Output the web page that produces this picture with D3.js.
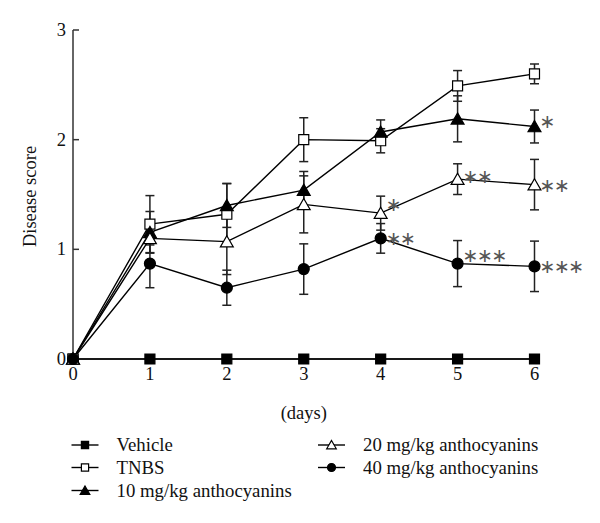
<!DOCTYPE html>
<html>
<head>
<meta charset="utf-8">
<script src="https://cdn.jsdelivr.net/npm/d3@7"></script>
<style>
  body { margin: 0; background: #fff; }
  svg { display: block; }
  text { font-family: "Liberation Serif", "Times New Roman", serif; fill: #111; }
  .star { font-family: "DejaVu Sans", sans-serif; fill: #555; }
</style>
</head>
<body>
<svg id="chart" width="600" height="523"></svg>
<script>
// days on the x axis
var days = [0, 1, 2, 3, 4, 5, 6];
var yTicks = [0, 1, 2, 3];

// mean disease score per group
var vehicle = [0, 0, 0, 0, 0, 0, 0];
var tnbs = [0, 1.23, 1.32, 2.0, 1.99, 2.49, 2.6];
var antho10 = [0, 1.155, 1.4, 1.54, 2.07, 2.19, 2.12];
var antho20 = [0, 1.1, 1.07, 1.41, 1.33, 1.64, 1.59];
var antho40 = [0, 0.87, 0.65, 0.82, 1.1, 0.87, 0.845];

// error bar half-lengths
var vehicleErr = [0, 0, 0, 0, 0, 0, 0];
var tnbsErr = [0, 0.26, 0.28, 0.2, 0.11, 0.14, 0.09];
var antho10Err = [0, 0.19, 0.2, 0.17, 0.11, 0.21, 0.15];
var antho20Err = [0, 0.06, 0.3, 0.26, 0.155, 0.14, 0.23];
var antho40Err = [0, 0.22, 0.16, 0.23, 0.135, 0.21, 0.23];

// significance marks: [group, day, label]
var stars = [
  ["10 mg/kg anthocyanins", 6, "∗"],
  ["20 mg/kg anthocyanins", 4, "∗"],
  ["20 mg/kg anthocyanins", 5, "∗∗"],
  ["20 mg/kg anthocyanins", 6, "∗∗"],
  ["40 mg/kg anthocyanins", 4, "∗∗"],
  ["40 mg/kg anthocyanins", 5, "∗∗∗"],
  ["40 mg/kg anthocyanins", 6, "∗∗∗"]
];

var series = [
  { name: "Vehicle", values: vehicle, err: vehicleErr, shape: "square", fill: "#000" },
  { name: "TNBS", values: tnbs, err: tnbsErr, shape: "square", fill: "#fff" },
  { name: "10 mg/kg anthocyanins", values: antho10, err: antho10Err, shape: "triangle", fill: "#000" },
  { name: "20 mg/kg anthocyanins", values: antho20, err: antho20Err, shape: "triangle", fill: "#fff" },
  { name: "40 mg/kg anthocyanins", values: antho40, err: antho40Err, shape: "circle", fill: "#000" }
];

var svg = d3.select("#chart");

var x = d3.scaleLinear().domain([0, 6]).range([73, 534.5]);
var y = d3.scaleLinear().domain([0, 3]).range([359, 30]);

function symbolPath(shape, big) {
  var type = shape == "square" ? d3.symbolSquare
    : shape == "triangle" ? d3.symbolTriangle : d3.symbolCircle;
  var size = big
    ? (shape == "square" ? 100 : shape == "triangle" ? 72 : 95)
    : (shape == "square" ? 52 : shape == "triangle" ? 40 : 50);
  return d3.symbol().type(type).size(size)();
}

// axes: plain lines with inner ticks on y
var axisColor = "#333";
svg.append("line")
  .attr("x1", x(0)).attr("x2", x(0))
  .attr("y1", y(3)).attr("y2", y(0))
  .attr("stroke", axisColor).attr("stroke-width", 1.5);
svg.append("line")
  .attr("x1", x(0)).attr("x2", x(6))
  .attr("y1", y(0)).attr("y2", y(0))
  .attr("stroke", axisColor).attr("stroke-width", 1.5);

svg.selectAll("line.ytick").data(yTicks).enter()
  .append("line")
  .attr("class", "ytick")
  .attr("x1", x(0)).attr("x2", x(0) + 6)
  .attr("y1", d => y(d)).attr("y2", d => y(d))
  .attr("stroke", axisColor).attr("stroke-width", 1.5);

svg.selectAll("text.ylab").data(yTicks).enter()
  .append("text")
  .attr("class", "ylab")
  .attr("x", x(0) - 7)
  .attr("y", d => y(d) + 6)
  .attr("text-anchor", "end")
  .attr("font-size", 18.5)
  .text(d => d);

svg.selectAll("text.xlab").data(days).enter()
  .append("text")
  .attr("class", "xlab")
  .attr("x", d => x(d))
  .attr("y", y(0) + 21)
  .attr("text-anchor", "middle")
  .attr("font-size", 18.5)
  .text(d => d);

svg.append("text")
  .attr("x", x(3))
  .attr("y", 419)
  .attr("text-anchor", "middle")
  .attr("font-size", 18.5)
  .text("(days)");

svg.append("text")
  .attr("transform", "translate(36," + (y(1.5) + 2) + ") rotate(-90)")
  .attr("text-anchor", "middle")
  .attr("font-size", 18.5)
  .text("Disease score");

// error bars (behind everything else)
var capW = 4.5;
series.forEach(function (s) {
  var g = svg.append("g").attr("stroke", "#222").attr("stroke-width", 1.5);
  days.forEach(function (d, i) {
    var e = s.err[i];
    if (!e) return;
    var v = s.values[i];
    g.append("line")
      .attr("x1", x(d)).attr("x2", x(d))
      .attr("y1", y(v + e)).attr("y2", y(v - e));
    [v + e, v - e].forEach(function (c) {
      g.append("line")
        .attr("x1", x(d) - capW).attr("x2", x(d) + capW)
        .attr("y1", y(c)).attr("y2", y(c));
    });
  });
});

// connecting lines
var line = d3.line().x((d, i) => x(days[i])).y(d => y(d));
series.forEach(function (s) {
  svg.append("path")
    .attr("d", line(s.values))
    .attr("fill", "none")
    .attr("stroke", "#000")
    .attr("stroke-width", 1.4);
});

// markers
series.forEach(function (s) {
  svg.selectAll(null).data(s.values).enter()
    .append("path")
    .attr("transform", (d, i) => {
      var dy = s.shape == "triangle" ? 1.5 : 0;
      return "translate(" + x(days[i]) + "," + (y(d) + dy) + ")";
    })
    .attr("d", symbolPath(s.shape, true))
    .attr("fill", s.fill)
    .attr("stroke", "#000")
    .attr("stroke-width", 1.2);
});

// significance stars; small vertical nudges to sit like the original
var starNudge = [-9, -12, -6, -3, -3, -12, -3];
svg.selectAll("text.star").data(stars).enter()
  .append("text")
  .attr("class", "star")
  .attr("x", d => x(d[1]) + 5)
  .attr("y", (d, i) => {
    var s = series.find(t => t.name == d[0]);
    return y(s.values[d[1]]) + starNudge[i] + 10;
  })
  .attr("font-size", 19)
  .attr("letter-spacing", -1.5)
  .text(d => d[2]);

// legend, two columns
var legendPos = [
  [85, 445], [85, 467.5], [85, 490.5],
  [331.5, 445], [331.5, 467.5]
];
var legend = svg.selectAll("g.legend").data(series).enter()
  .append("g")
  .attr("class", "legend")
  .attr("transform", (d, i) => "translate(" + legendPos[i][0] + "," + legendPos[i][1] + ")");

legend.append("line")
  .attr("x1", -13.5).attr("x2", 13.5)
  .attr("stroke", "#000").attr("stroke-width", 1.4);

legend.append("path")
  .attr("transform", d => d.shape == "triangle" ? "translate(0,1)" : null)
  .attr("d", d => symbolPath(d.shape, false))
  .attr("fill", d => d.fill)
  .attr("stroke", "#000")
  .attr("stroke-width", 1.2);

legend.append("text")
  .attr("x", 31.5)
  .attr("y", 6)
  .attr("font-size", 18.8)
  .text(d => d.name);
</script>
</body>
</html>
